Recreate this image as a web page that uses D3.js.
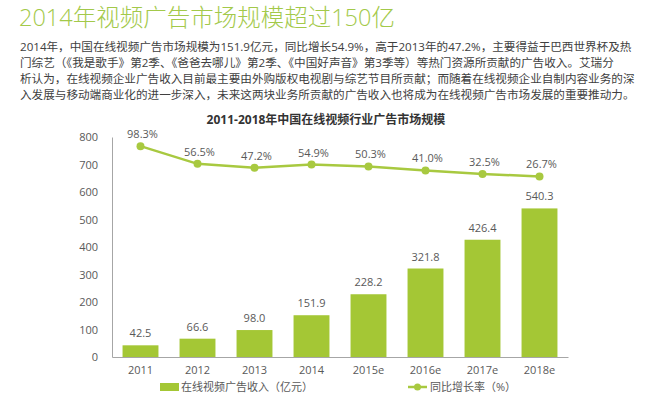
<!DOCTYPE html>
<html>
<head>
<meta charset="utf-8">
<script src="https://cdn.jsdelivr.net/npm/d3@7"></script>
<style>
  body { margin:0; background:#fff; }
  svg text { font-family: "Open Sans", "Noto Sans CJK SC", sans-serif; }
</style>
</head>
<body>
<script>
//******************************************************************************
// Data ************************************************************************

    var years = ["2011","2012","2013","2014","2015e","2016e","2017e","2018e"];
    var revenue = [42.5, 66.6, 98.0, 151.9, 228.2, 321.8, 426.4, 540.3]; // 亿元
    var growth = [98.3, 56.5, 47.2, 54.9, 50.3, 41.0, 32.5, 26.7]; // %
    var yTicks = [0, 100, 200, 300, 400, 500, 600, 700, 800];

    var headTitle = "2014年视频广告市场规模超过150亿";
    var paragraph = [
        "2014年，中国在线视频广告市场规模为151.9亿元，同比增长54.9%，高于2013年的47.2%，主要得益于巴西世界杯及热",
        "门综艺（《我是歌手》第2季、《爸爸去哪儿》第2季、《中国好声音》第3季等）等热门资源所贡献的广告收入。艾瑞分",
        "析认为，在线视频企业广告收入目前最主要由外购版权电视剧与综艺节目所贡献；而随着在线视频企业自制内容业务的深",
        "入发展与移动端商业化的进一步深入，未来这两块业务所贡献的广告收入也将成为在线视频广告市场发展的重要推动力。"
    ];
    var chartTitle = "2011-2018年中国在线视频行业广告市场规模";
    var legendBar = "在线视频广告收入（亿元）";
    var legendLine = "同比增长率（%）";

//******************************************************************************
// Settings ********************************************************************

    var settings = {
        width : 650,
        height : 395,
        left : 112, right : 568,
        top : 137, bottom : 357,
        green : "#a4c735",
        lineGreen : "#a8c940",
        titleGreen : "#a3c94a",
        text : "#595959",
        axis : "#a6a6a6",
    };

//******************************************************************************
// Drawing *********************************************************************

    var svg = d3.select("body").append("svg")
        .attr("width", settings.width)
        .attr("height", settings.height);

    // header
    svg.append("text")
        .text(headTitle)
        .attr("x", 19).attr("y", 26)
        .attr("fill", settings.titleGreen)
        .style("font-size", "23.5px")
        .style("font-weight", 300);

    svg.selectAll(".para").data(paragraph).enter().append("text")
        .attr("class", "para")
        .text(d => d)
        .attr("x", 20)
        .attr("y", (d, i) => 51 + i * 16)
        .attr("fill", "#404040")
        .style("font-size", "11.6px");

    // chart title
    svg.append("text")
        .text(chartTitle)
        .attr("x", 326).attr("y", 124)
        .attr("text-anchor", "middle")
        .attr("fill", "#333")
        .style("font-size", "12px")
        .style("font-weight", "bold");

    var x = d3.scaleBand()
        .domain(years)
        .range([settings.left, settings.right])
        .paddingInner(0.37)
        .paddingOuter(0.185);

    var y = d3.scaleLinear()
        .domain([0, 800])
        .range([settings.bottom, settings.top]);

    var y2 = d3.scaleLinear() // hidden secondary axis for the growth line
        .domain([-400, 120])
        .range([settings.bottom, settings.top]);

    // y axis
    var yAxis = svg.append("g")
        .attr("transform", "translate(" + settings.left + ",0)")
        .call(d3.axisLeft(y).tickValues(yTicks).tickSize(0).tickPadding(14));
    yAxis.select(".domain").attr("stroke", settings.axis);
    yAxis.selectAll("text").attr("fill", settings.text).style("font-size", "11px");

    // x axis
    var xAxis = svg.append("g")
        .attr("transform", "translate(0," + settings.bottom + ")")
        .call(d3.axisBottom(x).tickSize(0).tickPadding(9));
    xAxis.select(".domain").attr("stroke", settings.axis);
    xAxis.selectAll("text").attr("fill", settings.text).style("font-size", "11px");

    // bars
    svg.selectAll(".bar").data(revenue).enter().append("rect")
        .attr("class", "bar")
        .attr("x", (d, i) => x(years[i]))
        .attr("y", d => y(d))
        .attr("width", x.bandwidth())
        .attr("height", d => settings.bottom - y(d))
        .attr("fill", settings.green);

    svg.selectAll(".barLabel").data(revenue).enter().append("text")
        .attr("class", "barLabel")
        .text(d => d.toFixed(1))
        .attr("x", (d, i) => x(years[i]) + x.bandwidth() / 2)
        .attr("y", d => y(d) - 8)
        .attr("text-anchor", "middle")
        .attr("fill", settings.text)
        .style("font-size", "11px");

    // growth line
    var line = d3.line()
        .x((d, i) => x(years[i]) + x.bandwidth() / 2)
        .y(d => y2(d));

    svg.append("path")
        .datum(growth)
        .attr("d", line)
        .attr("fill", "none")
        .attr("stroke", settings.lineGreen)
        .attr("stroke-width", 2.5);

    svg.selectAll(".dot").data(growth).enter().append("circle")
        .attr("class", "dot")
        .attr("cx", (d, i) => x(years[i]) + x.bandwidth() / 2)
        .attr("cy", d => y2(d))
        .attr("r", 4)
        .attr("fill", settings.lineGreen);

    svg.selectAll(".lineLabel").data(growth).enter().append("text")
        .attr("class", "lineLabel")
        .text(d => d.toFixed(1) + "%")
        .attr("x", (d, i) => x(years[i]) + x.bandwidth() / 2 + 2)
        .attr("y", d => y2(d) - 8)
        .attr("text-anchor", "middle")
        .attr("fill", settings.text)
        .style("font-size", "11px");

    // legend
    var legend = svg.append("g");
    legend.append("rect")
        .attr("x", 160).attr("y", 383)
        .attr("width", 19).attr("height", 8)
        .attr("fill", settings.green);
    legend.append("text")
        .text(legendBar)
        .attr("x", 181).attr("y", 391)
        .attr("fill", settings.text)
        .style("font-size", "11px");

    legend.append("line")
        .attr("x1", 408).attr("x2", 427)
        .attr("y1", 387).attr("y2", 387)
        .attr("stroke", settings.lineGreen)
        .attr("stroke-width", 2.5);
    legend.append("circle")
        .attr("cx", 417.5).attr("cy", 387).attr("r", 3.5)
        .attr("fill", settings.lineGreen);
    legend.append("text")
        .text(legendLine)
        .attr("x", 430).attr("y", 391)
        .attr("fill", settings.text)
        .style("font-size", "11px");
</script>
</body>
</html>
